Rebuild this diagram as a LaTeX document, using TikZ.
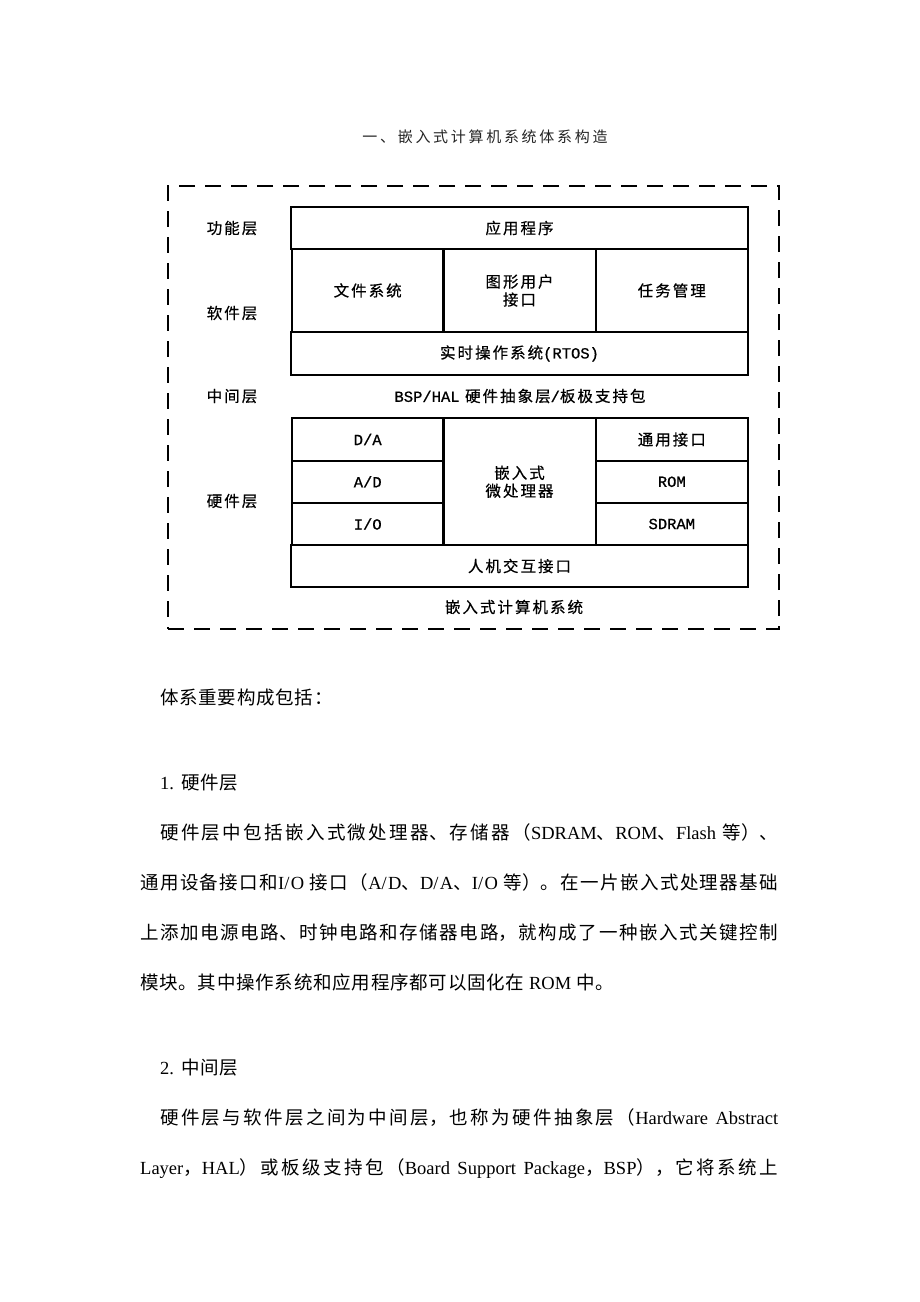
\documentclass[tikz,border=0pt]{standalone}
\usepackage{fontspec}
\setmainfont{Noto Sans CJK SC}
\newfontfamily\tnr{Liberation Serif}
\newfontfamily\mono{Liberation Mono}[FakeBold=0.8]
\newfontfamily\titlecjk{Noto Sans CJK SC}[LetterSpace=18]
\newfontfamily\cellcjk{Noto Sans CJK SC}[LetterSpace=13, FakeBold=0.5]
\newfontfamily\bodycjk{Noto Sans CJK SC}[LetterSpace=4]
\usetikzlibrary{positioning}
\XeTeXlinebreaklocale "zh"
\XeTeXlinebreakskip=0pt plus 2pt
\newcommand\titlefont{\fontsize{15}{18}\titlecjk}
\newcommand\cellfont{\fontsize{15.5}{18}\cellcjk}
\newcommand\bodyfont{\fontsize{18.5}{22}\selectfont}

\begin{document}
\begin{tikzpicture}[
    x=1pt, y=-1pt,
    cell/.style={
        draw,
        line width=2pt,
        inner sep=0pt,
        outer sep=0pt,
        align=center,
        font=\cellfont,
        minimum width=152.3pt,
        minimum height=42.3pt
    },
    wide/.style={
        cell,
        minimum width=457pt
    },
    layer/.style={
        font=\cellfont,
        inner sep=0pt
    },
    plain/.style={
        anchor=base west,
        inner sep=0pt,
        font=\bodyfont\bodycjk
    },
    line/.style={
        plain,
        font=\bodyfont,
        text width=638pt,
        align=justify,
        execute at begin node={\parfillskip=0pt\relax}
    },
    first/.style={
        line,
        text width=618pt
    }
]

\useasboundingbox[fill=white] (0,0) rectangle (920,1302);

% =================================================
% TITULO
% =================================================

\node[
    font=\titlefont,
    text=black!85
] (title) at (485,137)
{一、嵌入式计算机系统体系构造};

% Moldura tracejada
\node[
    draw,
    line width=2.5pt,
    dash pattern=on 16pt off 10pt,
    minimum width=611pt,
    minimum height=443pt,
    inner sep=0pt
] (frame) at (473.5,407.5) {};


% =================================================
% CAMADAS DE SOFTWARE
% =================================================

\node[wide] (app) at (519.5,228)
{应用程序};

\node[cell, minimum height=83pt] (fs) at (367.7,290.5)
{文件系统};

\node[cell, minimum height=83pt] (gui) at (519.5,290.5)
{图形用户\\接口};

\node[cell, minimum height=83pt] (task) at (671.8,290.5)
{任务管理};

\node[wide, minimum height=43pt] (rtos) at (519.5,353.5)
{实时操作系统{\mono(RTOS)}};

% Camada intermediaria
\node[layer] (bsp) at (520,396)
{{\mono BSP/HAL} 硬件抽象层{\mono /}板极支持包};


% =================================================
% CAMADA DE HARDWARE
% =================================================

\node[cell] (da) at (367.7,439.5)
{\mono D/A};

\node[cell] (ad) at (367.7,481.8)
{\mono A/D};

\node[cell] (io) at (367.7,524)
{\mono I/O};

\node[cell, minimum height=127pt] (cpu) at (519.5,481.8)
{嵌入式\\微处理器};

\node[cell] (gpio) at (671.8,439.5)
{通用接口};

\node[cell] (rom) at (671.8,481.8)
{\mono ROM};

\node[cell] (sdram) at (671.8,524)
{\mono SDRAM};

\node[wide] (hmi) at (519.5,566)
{人机交互接口};

\node[layer] (sys) at (514,607)
{嵌入式计算机系统};

% Rotulos das camadas
\node[layer] (lfun) at (232,228) {功能层};
\node[layer] (lsw) at (232,313) {软件层};
\node[layer] (lmid) at (232,396) {中间层};
\node[layer] (lhw) at (232,501) {硬件层};


% =================================================
% TEXTO
% =================================================

\node[plain] (intro) at (160,704)
{体系重要构成包括：};

\node[plain] (sec1) at (160,789)
{{\tnr 1.}\hspace{7pt}硬件层};

\node[first] (p1a) at (160,839)
{硬件层中包括嵌入式微处理器、存储器（{\tnr SDRAM}、{\tnr ROM}、{\tnr Flash} 等）、};

\node[line] (p1b) at (140,889)
{通用设备接口和{\tnr I/O} 接口（{\tnr A/D}、{\tnr D/A}、{\tnr I/O} 等）。在一片嵌入式处理器基础};

\node[line] (p1c) at (140,939)
{上添加电源电路、时钟电路和存储器电路，就构成了一种嵌入式关键控制};

\node[plain] (p1d) at (140,989)
{模块。其中操作系统和应用程序都可以固化在 {\tnr ROM} 中。};

\node[plain] (sec2) at (160,1074)
{{\tnr 2.}\hspace{7pt}中间层};

\node[first] (p2a) at (160,1124)
{硬件层与软件层之间为中间层，也称为硬件抽象层（{\tnr Hardware Abstract}};

\node[line] (p2b) at (140,1174)
{{\tnr Layer}，{\tnr HAL}）或板级支持包（{\tnr Board Support Package}，{\tnr BSP}），它将系统上};

\end{tikzpicture}
\end{document}
